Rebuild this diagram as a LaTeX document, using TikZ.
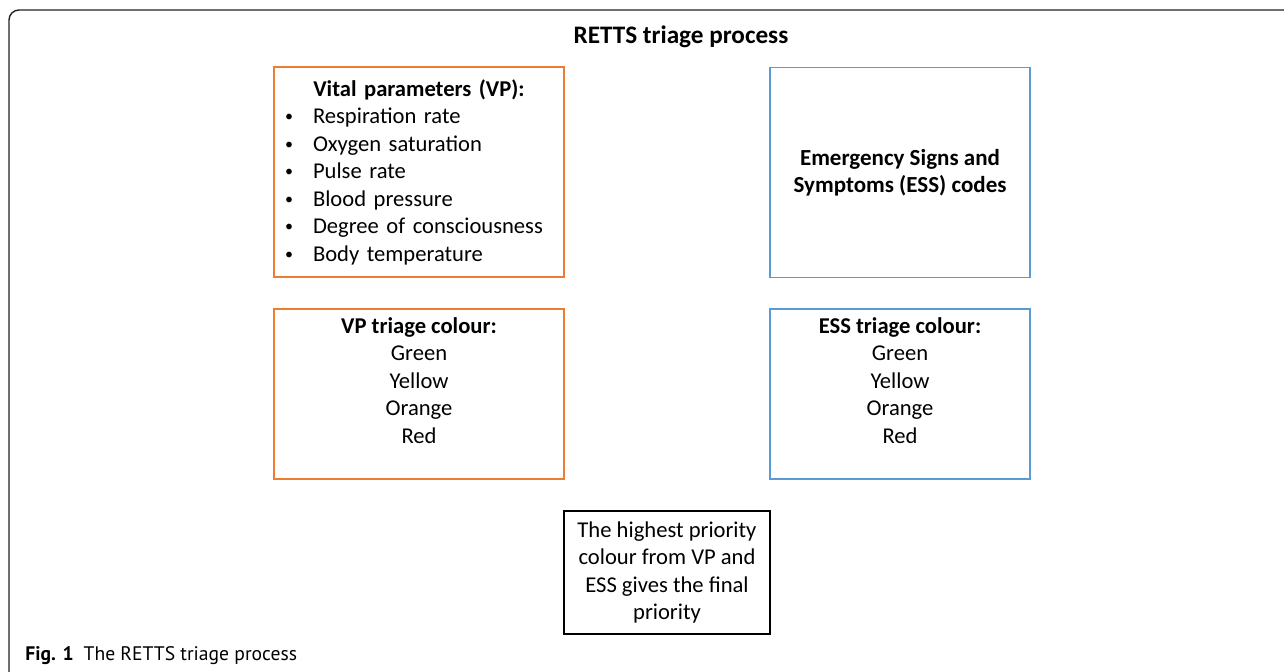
\documentclass[tikz,border=0pt]{standalone}
\usepackage{fontspec}
\setmainfont{Carlito}
\newfontfamily\capfont{PT Sans}
\usetikzlibrary{positioning}
\definecolor{vporange}{HTML}{ED7D31}
\definecolor{essblue}{HTML}{5B9BD5}
\definecolor{framegray}{HTML}{222222}
\newcommand{\vpbullet}{\makebox[14pt][l]{\raisebox{0.9pt}{\fontsize{8}{8}\selectfont\textbullet}}}

\begin{document}
\begin{tikzpicture}[x=0.5pt, y=-0.5pt,
            box/.style={rectangle, draw, line width=0.7pt, inner sep=0pt, align=center, font=\fontsize{11.3}{13.75}\selectfont},
            vpbox/.style={box, draw=vporange, minimum width=145pt},
            essbox/.style={box, draw=essblue, minimum width=130pt},
            finalbox/.style={box, draw=black, minimum width=103pt, minimum height=61.5pt}
        ]
\useasboundingbox (0,0) rectangle (1284,672);

% Figure frame
            \draw[line width=0.7pt, draw=framegray, rounded corners=5pt] (9,672) -- (9,10) -- (1284,10);

% Title
            \node[font=\fontsize{12.6}{15}\selectfont\bfseries] (title) at (681,37) {RETTS triage process};

% Vital parameters
            \node[vpbox, minimum height=105pt, align=left, text width=134pt] (vp) at (419,172) {%
                \makebox[134pt][c]{\textbf{Vital parameters (VP):}}\\
                \vpbullet Respiration rate\\
                \vpbullet Oxygen saturation\\
                \vpbullet Pulse rate\\
                \vpbullet Blood pressure\\
                \vpbullet Degree of consciousness\\
                \vpbullet Body temperature};

% ESS codes
            \node[essbox, minimum height=105pt, font=\fontsize{11.5}{13.75}\selectfont\bfseries] (ess) at (900,172.5) {Emergency Signs and\\Symptoms (ESS) codes};

% Triage colours
            \node[vpbox, minimum height=85pt] (vpcol) at (419,394) {\textbf{VP triage colour:}\\Green\\Yellow\\Orange\\Red\\\mbox{}};
            \node[essbox, minimum height=85pt] (esscol) at (900,394) {\textbf{ESS triage colour:}\\Green\\Yellow\\Orange\\Red\\\mbox{}};

% Final priority
            \node[finalbox] (final) at (667,572.5) {The highest priority\\colour from VP and\\ESS gives the final\\priority};

% Caption
            \node[anchor=base west, inner sep=0pt, font=\capfont\fontsize{9.8}{12}\selectfont] (caption) at (25,661) {\textbf{Fig. 1}\hspace{5pt}The RETTS triage process};

        \end{tikzpicture}
\end{document}
